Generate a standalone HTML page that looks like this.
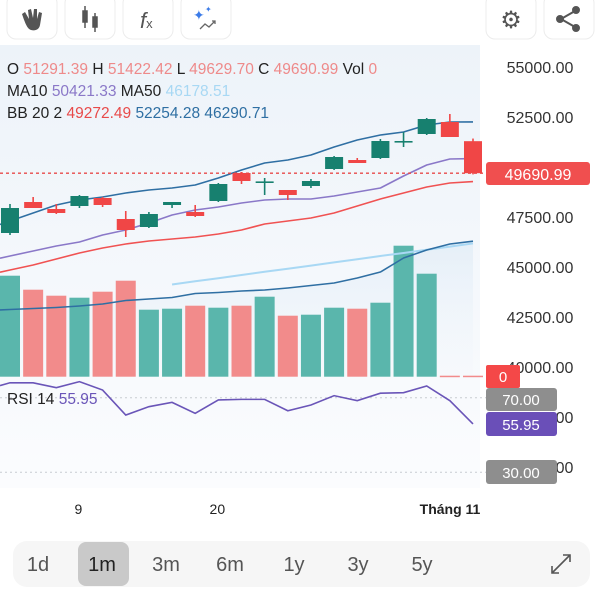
<!DOCTYPE html>
<html><head><meta charset="utf-8"><style>
body{margin:0;width:600px;height:600px;background:#fff;overflow:hidden;font-family:"Liberation Sans",sans-serif}
svg{position:absolute;left:0;top:0}
text{font-family:"Liberation Sans",sans-serif}
</style></head><body>
<svg id="c" width="600" height="600">
<defs>
<linearGradient id="bg" x1="0" y1="0" x2="0" y2="1"><stop offset="0" stop-color="#edf3f9"/><stop offset="1" stop-color="#fbfcfe"/></linearGradient>
<linearGradient id="bbf" x1="0" y1="0" x2="0" y2="1"><stop offset="0" stop-color="#d6e6f4" stop-opacity="0.8"/><stop offset="1" stop-color="#eef4fa" stop-opacity="0.2"/></linearGradient>
</defs>
<rect x="0" y="45" width="480" height="443" fill="url(#bg)"/>
<g id="grid"></g>
<g id="marks"></g>
<g id="ui"></g>
</svg>
<script>
const NS='http://www.w3.org/2000/svg';
const opens=[46700,48250,47900,48050,48450,47400,47000,48100,47750,48300,49700,49250,48850,49050,49900,50350,50450,51250,51650,52250,51291.39];
const highs=[48150,48500,48150,48600,48500,47800,47750,48250,48100,49200,49750,49450,48850,49400,50550,50450,51400,51750,52450,52650,51422.42];
const lows=[46600,47950,47650,47950,48000,46500,46950,47950,47500,48250,49150,48600,48350,48950,49850,50200,50400,51000,51600,51500,49629.70];
const closes=[47950,47950,47700,48550,48100,46850,47650,48250,47550,49150,49300,49280,48600,49300,50500,50200,51300,51300,52400,51500,49690.99];
const volumes=[101,87,81,79,85,96,67,68,71,69,71,80,61,62,69,68,74,131,103,0,0];
const bbUpper=[47300,47700,48100,48350,48500,48700,48850,48950,49100,49450,49850,50200,50350,50600,51000,51350,51600,51750,52100,52250,52254.28];
const bbMiddle=[44850,45100,45400,45700,45950,46150,46300,46400,46500,46650,46850,47150,47300,47450,47700,48050,48400,48700,49000,49200,49272.49];
const bbLower=[42875,42925,42975,43050,43150,43325,43400,43475,43675,43725,43800,43850,43950,44075,44200,44450,44750,45450,45850,46150,46290.71];
const ma10=[45550,45800,46050,46250,46600,46850,47200,47600,47850,48000,48200,48350,48400,48400,48550,48750,48950,49550,50100,50400,50421.33];
const ma50=[null,null,null,null,null,null,null,44125,44290,44440,44600,44760,44910,45070,45230,45390,45550,45700,45860,46020,46178.51];
const rsi=[78.0,78.0,75.4,78.6,74.1,60.7,65.2,67.5,61.6,68.8,69.1,69.1,63.0,66.1,71.1,68.4,72.4,72.7,76.3,68.4,55.95];
const priceTicks=[55000,52500,47500,45000,42500,40000,37500,35000];
const xLabels=[{i:3,t:'9'},{i:9,t:'20'},{i:19,t:'Tháng 11'}];

const xS=i=>10+23.15*i;
const yP=v=>67+(55000-v)*0.02;
const yV=v=>376.7-v;
const yR=v=>397.7+(70-v)*1.865;

const marks=document.getElementById('marks');
function mk(tag,attrs,parent){const e=document.createElementNS(NS,tag);for(const k in attrs)e.setAttribute(k,attrs[k]);(parent||marks).appendChild(e);return e;}

let area='M0,'+(yP(bbLower[0])+0.5);
bbLower.forEach((v,i)=>area+=' L'+xS(i)+','+yP(v));
area+=' L'+xS(20)+',376.7 L0,376.7 Z';
const af=mk('path',{d:area,fill:'url(#bbf)',opacity:'0.6'});



volumes.forEach((v,i)=>{
  const up=closes[i]>=opens[i];
  const r=mk('rect',{x:xS(i)-10,y:yV(v)-(v?0:1),width:20,height:v?v:1.5,fill:up?'#5ab6ac':'#f28b8b'});
  
  
});

function line(arr,yf,color,w,name){
  let d='';let first=-1;
  arr.forEach((v,i)=>{if(v==null)return;
    if(first<0){first=i;
      if(i===0&&arr[1]!=null){const y0=yf(v)-(yf(arr[1])-yf(v))*(10/23.15);d='M0,'+y0+' L'+xS(i)+','+yf(v);return;}
    }
    d+=(d?' L':'M')+xS(i)+','+yf(v);});
  const p=mk('path',{d:d,fill:'none',stroke:color,'stroke-width':w,'stroke-linejoin':'round'});
  
  
}
line(ma50,yP,'#a8d8f4',2,'ma50-line');
line(bbLower,yP,'#2f6fa3',1.6,'bb-lower-line');
line(bbMiddle,yP,'#f05252',1.6,'bb-middle-line');
line(ma10,yP,'#8a78c8',1.6,'ma10-line');
line(bbUpper,yP,'#2f6fa3',1.6,'bb-upper-line');

const lp=mk('line',{x1:0,x2:486,y1:yP(closes[20]),y2:yP(closes[20]),stroke:'#e84a4a','stroke-width':1.3,'stroke-dasharray':'3,3'});



opens.forEach((o,i)=>{
  const c=closes[i],up=c>=o,col=up?'#17806f':'#f04646';
  const g=mk('g',{});
  
  
  mk('line',{x1:xS(i),x2:xS(i),y1:yP(highs[i]),y2:yP(lows[i]),stroke:col,'stroke-width':1.6},g);
  const top=yP(Math.max(o,c)),bh=Math.max(Math.abs(yP(o)-yP(c)),1.6);
  mk('rect',{x:xS(i)-9,y:top,width:18,height:bh,fill:col},g);
});

[70,30].forEach(v=>{const l=mk('line',{x1:0,x2:486,y1:yR(v),y2:yR(v),stroke:'#c8ccd2','stroke-width':1,'stroke-dasharray':'2,3'});

});
let rd='M0,'+yR(76.5);rsi.forEach((v,i)=>rd+=' L'+xS(i)+','+yR(v));
const rl=mk('path',{d:rd,fill:'none',stroke:'#6a55b8','stroke-width':1.6});



priceTicks.forEach(v=>{const t=mk('text',{x:540,y:yP(v)+6,'text-anchor':'middle','font-size':'16',fill:'#333'});t.textContent=v.toFixed(2);

});
xLabels.forEach(o=>{const t=mk('text',{x:o.i===19?450:xS(o.i)-1,y:514,'text-anchor':'middle','font-size':'14',fill:'#222','font-weight':o.i===19?'bold':'normal'});t.textContent=o.t;

});
</script>
<svg width="600" height="600" style="pointer-events:none">
<g font-size="15.5">
<text x="7" y="74" fill="#222">O <tspan fill="#ee8a8a">51291.39</tspan> H <tspan fill="#ee8a8a">51422.42</tspan> L <tspan fill="#ee8a8a">49629.70</tspan> C <tspan fill="#ee8a8a">49690.99</tspan> Vol <tspan fill="#ee8a8a">0</tspan></text>
<text x="7" y="96" fill="#222">MA10 <tspan fill="#8a78c8">50421.33</tspan> MA50 <tspan fill="#a8d8f4">46178.51</tspan></text>
<text x="7" y="118" fill="#222">BB 20 2 <tspan fill="#e84a4a">49272.49</tspan> <tspan fill="#2f6fa3">52254.28</tspan> <tspan fill="#2f6fa3">46290.71</tspan></text>
</g>
<text x="7" y="404" font-size="15.5" fill="#222">RSI 14 <tspan fill="#6a55b8">55.95</tspan></text>
<g><rect x="486" y="162" width="104" height="23" rx="3" fill="#f04f4f"/><text x="538" y="180" text-anchor="middle" font-size="16" fill="#fff">49690.99</text></g>
<g><rect x="486" y="365" width="34" height="23" rx="2" fill="#f44848"/><text x="503" y="382" text-anchor="middle" font-size="15" fill="#fff">0</text></g>
<g><rect x="486" y="388" width="71" height="23" rx="3" fill="#8e8e8e"/><text x="521" y="405" text-anchor="middle" font-size="15" fill="#fff">70.00</text></g>
<g><rect x="486" y="412" width="71" height="24" rx="3" fill="#6a4fb8"/><text x="521" y="430" text-anchor="middle" font-size="15" fill="#fff">55.95</text></g>
<g><rect x="486" y="460" width="71" height="24" rx="3" fill="#8e8e8e"/><text x="521" y="478" text-anchor="middle" font-size="15" fill="#fff">30.00</text></g>
</svg>
<svg width="600" height="600" style="position:absolute;left:0;top:0">
<g fill="#fff" stroke="#ececec" stroke-width="1">
<rect x="7" y="-6" width="50" height="45" rx="9"/>
<rect x="65" y="-6" width="50" height="45" rx="9"/>
<rect x="123" y="-6" width="50" height="45" rx="9"/>
<rect x="181" y="-6" width="50" height="45" rx="9"/>
<rect x="486" y="-6" width="50" height="45" rx="9"/>
<rect x="544" y="-6" width="50" height="45" rx="9"/>
</g>
<g fill="#555"><path d="M22 14 l3 -2 l4 7 l-1 -9 l3 -1 l2 9 l1 -9 l3 0 l0 10 l2 -7 l3 1 l-2 12 c-1 5 -5 6 -9 5 c-3 -1 -5 -4 -9 -16z"/></g>
<g stroke="#555" stroke-width="1.5" fill="#555"><line x1="85" y1="6" x2="85" y2="28"/><rect x="83" y="11" width="4" height="11"/><line x1="95" y1="13" x2="95" y2="32"/><rect x="93" y="17" width="4" height="10"/></g>
<text x="140" y="28" font-size="22" fill="#555" font-family="Liberation Serif,serif" font-style="italic">f<tspan font-size="13" font-style="normal" font-family="Liberation Sans">x</tspan></text>
<g><text x="193" y="20" font-size="14" fill="#3b7be8">✦</text><text x="205" y="12" font-size="8" fill="#3b7be8">✦</text><path d="M200 29 l5 -5 l4 3 l6 -6 m-3 0 h3 v3" stroke="#666" stroke-width="1.3" fill="none"/></g>
<text x="511" y="28" font-size="24" fill="#555" text-anchor="middle">⚙</text>
<g fill="#555" stroke="#555" stroke-width="2"><line x1="561" y1="19" x2="575" y2="11"/><line x1="561" y1="19" x2="575" y2="27"/><circle cx="560" cy="19" r="3"/><circle cx="576" cy="10" r="3"/><circle cx="576" cy="28" r="3"/></g>
<g>
<rect x="13" y="541" width="577" height="46" rx="14" fill="#f6f6f6"/>
<rect x="78" y="542" width="51" height="44" rx="8" fill="#c9c9c9"/>
<g font-size="20" fill="#555" text-anchor="middle">
<text x="38" y="571">1d</text>
<text x="102" y="571" fill="#222">1m</text>
<text x="166" y="571">3m</text>
<text x="230" y="571">6m</text>
<text x="294" y="571">1y</text>
<text x="358" y="571">3y</text>
<text x="422" y="571">5y</text>
</g>
<g stroke="#555" stroke-width="1.6" fill="none"><line x1="552" y1="573" x2="570" y2="555"/><path d="M552 566 v7 h7 M563 555 h7 v7"/></g>
</g>
</svg>
</body></html>
